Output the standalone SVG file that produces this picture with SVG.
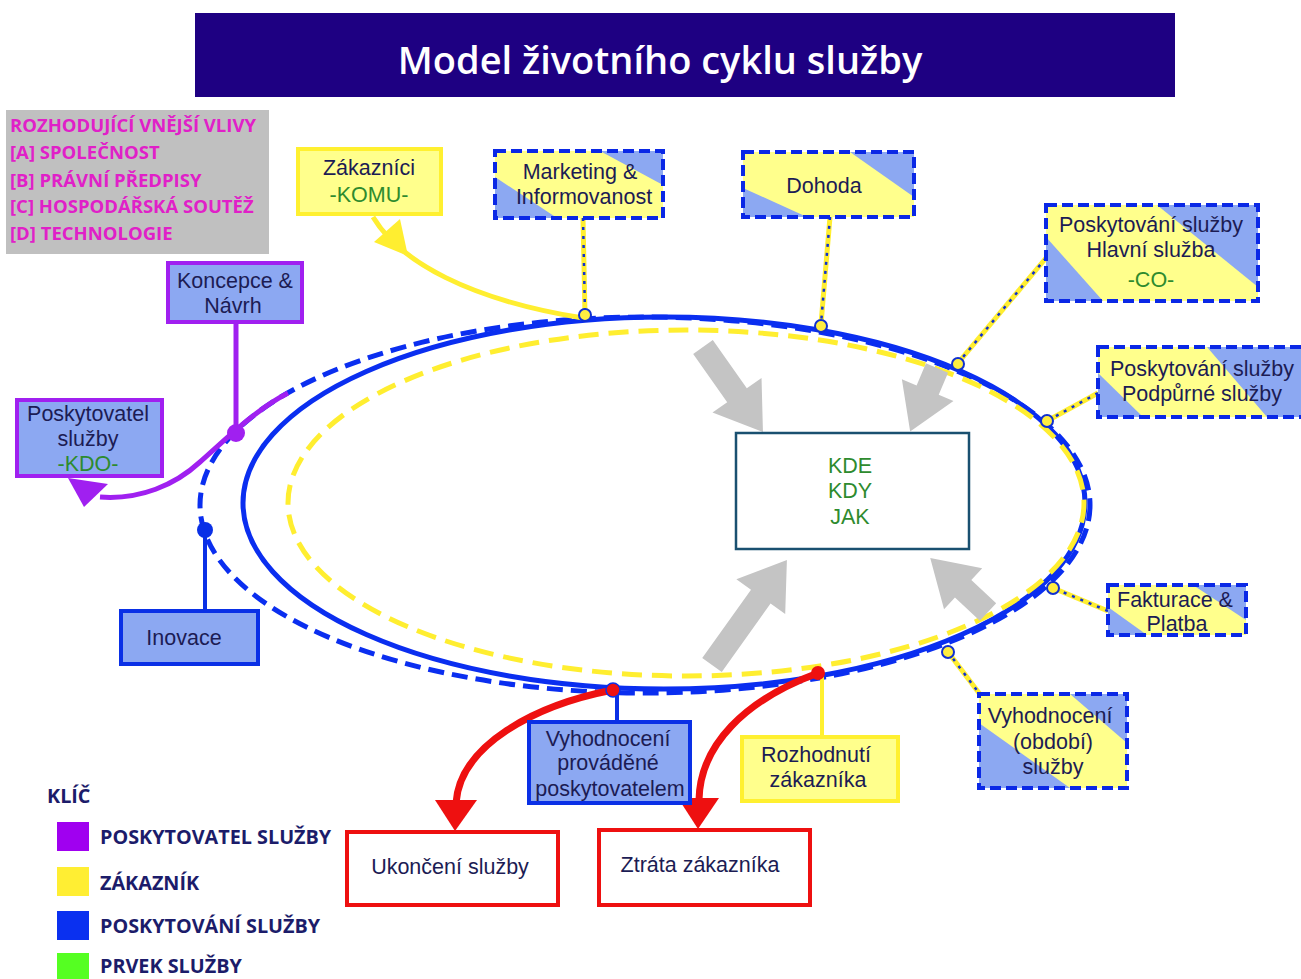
<svg xmlns="http://www.w3.org/2000/svg" width="1301" height="979" viewBox="0 0 1301 979">
<style>
  .bt{font-family:"Liberation Sans",Arial,sans-serif;font-size:21.5px;fill:#1c1c54;text-anchor:middle}
  .gr{fill:#2e8b2e}
  .sb{fill:#8ca8f2}
  .sy{fill:#ffff8c}
  .sd{fill:none;stroke:#0a28e6;stroke-width:4;stroke-dasharray:11 5}
  .pur{fill:#8ca8f2;stroke:#a020f0;stroke-width:4}
  .blu{fill:#8ca8f2;stroke:#0a30e6;stroke-width:4}
  .yel{fill:#ffff8c;stroke:#fff030;stroke-width:4}
  .red{fill:#fff;stroke:#ee1010;stroke-width:4}
  .cy{fill:none;stroke:#ffee30;stroke-width:5}
  .cb{fill:none;stroke:#1030d0;stroke-width:2.5;stroke-dasharray:3 6}
  .bump{fill:#ffee40;stroke:#1030d0;stroke-width:2}
  .garrow{fill:#c4c4c4}
  .leg{font-family:"Open Sans","Liberation Sans",sans-serif;font-weight:700;font-size:19.8px;fill:#1c1c6a}
  .inf{font-family:"Open Sans","Liberation Sans",sans-serif;font-weight:700;font-size:18.5px;fill:#e020c8}
</style>
<rect width="1301" height="979" fill="#fff"/>

<g id="title">
  <rect x="195" y="13" width="980" height="84" fill="#1e0082"/>
  <text x="660" y="74" text-anchor="middle" font-family="Open Sans, Liberation Sans, sans-serif" font-weight="600" font-size="38" fill="#fff">Model životního cyklu služby</text>
</g>

<g id="influences">
  <rect x="6" y="110" width="263" height="144" fill="#c0c0c0"/>
  <text class="inf" x="10" y="132">ROZHODUJÍCÍ VNĚJŠÍ VLIVY</text>
  <text class="inf" x="10" y="159">[A] SPOLEČNOST</text>
  <text class="inf" x="10" y="187">[B] PRÁVNÍ PŘEDPISY</text>
  <text class="inf" x="10" y="213">[C] HOSPODÁŘSKÁ SOUTĚŽ</text>
  <text class="inf" x="10" y="240">[D] TECHNOLOGIE</text>
</g>

<g id="cycle">
  <ellipse cx="645" cy="505" rx="445" ry="188" fill="none" stroke="#0a2ef0" stroke-width="5" stroke-dasharray="16 8"/>
  <ellipse cx="664" cy="503" rx="421" ry="186" fill="none" stroke="#0a2ef0" stroke-width="5"/>
  <ellipse cx="686" cy="503" rx="398" ry="173" fill="none" stroke="#ffee30" stroke-width="5" stroke-dasharray="20 10"/>
</g>

<g id="grey-arrows">
  <polygon class="garrow" transform="translate(703 347) rotate(54.8)" points="0,-12 59,-12 59,-30 104,0 59,30 59,12 0,12"/>
  <polygon class="garrow" transform="translate(937 368) rotate(112.9)" points="0,-12 24,-12 24,-28 69,0 24,28 24,12 0,12"/>
  <polygon class="garrow" transform="translate(712 665) rotate(-54.5)" points="0,-12 84,-12 84,-30 129,0 84,30 84,12 0,12"/>
  <polygon class="garrow" transform="translate(988 612) rotate(-137)" points="0,-12 34,-12 34,-28 79,0 34,28 34,12 0,12"/>
</g>

<g id="connectors">
  <path class="cy" d="M373 217 C400 262 470 300 583 318" stroke-width="6"/>
  <polygon points="408,256 374,242 400,219" fill="#ffee30"/>
  <path class="cy" d="M583 218 L585 314"/><path class="cb" d="M583 218 L585 314"/>
  <path class="cy" d="M830 217 L821 324"/><path class="cb" d="M830 217 L821 324"/>
  <path class="cy" d="M1046 258 L958 363"/><path class="cb" d="M1046 258 L958 363"/>
  <path class="cy" d="M1098 393 L1047 421"/><path class="cb" d="M1098 393 L1047 421"/>
  <path class="cy" d="M1108 611 L1053 588"/><path class="cb" d="M1108 611 L1053 588"/>
  <path class="cy" d="M982 697 L948 652"/><path class="cb" d="M982 697 L948 652"/>
  <circle class="bump" cx="585" cy="315" r="6"/>
  <circle class="bump" cx="821" cy="326" r="6"/>
  <circle class="bump" cx="958" cy="364" r="6"/>
  <circle class="bump" cx="1047" cy="421" r="6"/>
  <circle class="bump" cx="1053" cy="588" r="6"/>
  <circle class="bump" cx="948" cy="652" r="6"/>
  <path d="M236 322 L236 432" stroke="#a020f0" stroke-width="5" fill="none"/>
  <path d="M288 393 C255 410 225 440 200 462 C175 485 140 500 100 497" stroke="#a020f0" stroke-width="5" fill="none"/>
  <polygon points="68,478 84,507 108,484" fill="#a020f0"/>
  <circle cx="236" cy="433" r="9" fill="#a020f0"/>
  <path d="M205 611 L205 530" stroke="#0a30e6" stroke-width="4" fill="none"/>
  <circle cx="205" cy="530" r="8" fill="#0a30e6"/>
  <path d="M617 722 L617 690" stroke="#0a30e6" stroke-width="4" fill="none"/>
  <path d="M822 737 L822 673" stroke="#fff030" stroke-width="4" fill="none"/>
  <path d="M613 690 C535 705 460 745 456 803" stroke="#ee1010" stroke-width="7" fill="none"/>
  <polygon points="455,831 435,800 477,800" fill="#ee1010"/>
  <path d="M818 673 C745 700 700 745 699 800" stroke="#ee1010" stroke-width="7" fill="none"/>
  <polygon points="698,829 678,798 719,798" fill="#ee1010"/>
  <circle cx="613" cy="690" r="7" fill="#ee1010" stroke="#0a30e6" stroke-width="1.5"/>
  <circle cx="818" cy="673" r="7" fill="#ee1010"/>
</g>

<g id="center">
  <rect x="736" y="433" width="233" height="116" fill="#fff" stroke="#1a5070" stroke-width="2.5"/>
  <text class="bt gr" x="850" y="473" font-size="20">KDE</text>
  <text class="bt gr" x="850" y="498" font-size="20">KDY</text>
  <text class="bt gr" x="850" y="524" font-size="20">JAK</text>
</g>

<g id="zakaznici">
  <rect class="yel" x="298" y="149" width="143" height="65"/>
  <text class="bt" x="369" y="175">Zákazníci</text>
  <text class="bt gr" x="369" y="202">-KOMU-</text>
</g>
<g id="marketing">
  <rect class="sb" x="495" y="151" width="168" height="67"/>
  <polygon class="sy" points="495,151 600,151 663,185 663,218 557,218 495,177"/>
  <rect class="sd" x="495" y="151" width="168" height="67"/>
  <text class="bt" x="580" y="179">Marketing &amp;</text>
  <text class="bt" x="584" y="204">Informovanost</text>
</g>
<g id="dohoda">
  <rect class="sb" x="743" y="152" width="171" height="65"/>
  <polygon class="sy" points="743,152 850,152 914,197 914,217 807,217 743,188"/>
  <rect class="sd" x="743" y="152" width="171" height="65"/>
  <text class="bt" x="824" y="193">Dohoda</text>
</g>
<g id="hlavni">
  <rect class="sb" x="1046" y="205" width="212" height="96"/>
  <polygon class="sy" points="1046,205 1157,205 1258,287 1258,301 1103,301 1046,237"/>
  <rect class="sd" x="1046" y="205" width="212" height="96"/>
  <text class="bt" x="1151" y="232">Poskytování služby</text>
  <text class="bt" x="1151" y="257">Hlavní služba</text>
  <text class="bt gr" x="1151" y="287">-CO-</text>
</g>
<g id="podpurne">
  <rect class="sb" x="1098" y="347" width="215" height="70"/>
  <polygon class="sy" points="1098,347 1207,347 1267,417 1143,417 1098,373"/>
  <rect class="sd" x="1098" y="347" width="215" height="70"/>
  <text class="bt" x="1202" y="376">Poskytování služby</text>
  <text class="bt" x="1202" y="401">Podpůrné služby</text>
</g>
<g id="fakturace">
  <rect class="sb" x="1108" y="585" width="138" height="50"/>
  <polygon class="sy" points="1108,585 1193,585 1246,620 1246,635 1147,635 1108,607"/>
  <rect class="sd" x="1108" y="585" width="138" height="50"/>
  <text class="bt" x="1175" y="607">Fakturace &amp;</text>
  <text class="bt" x="1177" y="631">Platba</text>
</g>
<g id="vyhodnoceni-obdobi">
  <rect class="sb" x="979" y="694" width="148" height="94"/>
  <polygon class="sy" points="979,694 1070,694 1127,743 1127,788 1070,788 979,723"/>
  <rect class="sd" x="979" y="694" width="148" height="94"/>
  <text class="bt" x="1050" y="723">Vyhodnocení</text>
  <text class="bt" x="1053" y="749">(období)</text>
  <text class="bt" x="1053" y="774">služby</text>
</g>
<g id="koncepce">
  <rect class="pur" x="168" y="263" width="134" height="59"/>
  <text class="bt" x="235" y="288">Koncepce &amp;</text>
  <text class="bt" x="233" y="313">Návrh</text>
</g>
<g id="poskytovatel">
  <rect class="pur" x="17" y="400" width="145" height="76"/>
  <text class="bt" x="88" y="421">Poskytovatel</text>
  <text class="bt" x="88" y="446">služby</text>
  <text class="bt gr" x="88" y="471">-KDO-</text>
</g>
<g id="inovace">
  <rect class="blu" x="121" y="611" width="137" height="53"/>
  <text class="bt" x="184" y="645">Inovace</text>
</g>
<g id="vyhodnoceni-poskytovatel">
  <rect class="blu" x="529" y="722" width="161" height="81"/>
  <text class="bt" x="608" y="746">Vyhodnocení</text>
  <text class="bt" x="608" y="770">prováděné</text>
  <text class="bt" x="610" y="796">poskytovatelem</text>
</g>
<g id="rozhodnuti">
  <rect class="yel" x="742" y="737" width="156" height="64"/>
  <text class="bt" x="816" y="762">Rozhodnutí</text>
  <text class="bt" x="818" y="787">zákazníka</text>
</g>
<g id="ukonceni">
  <rect class="red" x="347" y="832" width="211" height="73"/>
  <text class="bt" x="450" y="874">Ukončení služby</text>
</g>
<g id="ztrata">
  <rect class="red" x="599" y="830" width="211" height="75"/>
  <text class="bt" x="700" y="872">Ztráta zákazníka</text>
</g>

<g id="legend">
  <text class="leg" x="47" y="803" font-size="22">KLÍČ</text>
  <rect x="57" y="822" width="32" height="29" fill="#a000f0"/>
  <rect x="57" y="867" width="32" height="29" fill="#ffee33"/>
  <rect x="57" y="911" width="32" height="29" fill="#0a30f0"/>
  <rect x="57" y="953" width="32" height="26" fill="#55ff22"/>
  <text class="leg" x="100" y="844">POSKYTOVATEL SLUŽBY</text>
  <text class="leg" x="100" y="890">ZÁKAZNÍK</text>
  <text class="leg" x="100" y="933">POSKYTOVÁNÍ SLUŽBY</text>
  <text class="leg" x="100" y="973">PRVEK SLUŽBY</text>
</g>
</svg>
